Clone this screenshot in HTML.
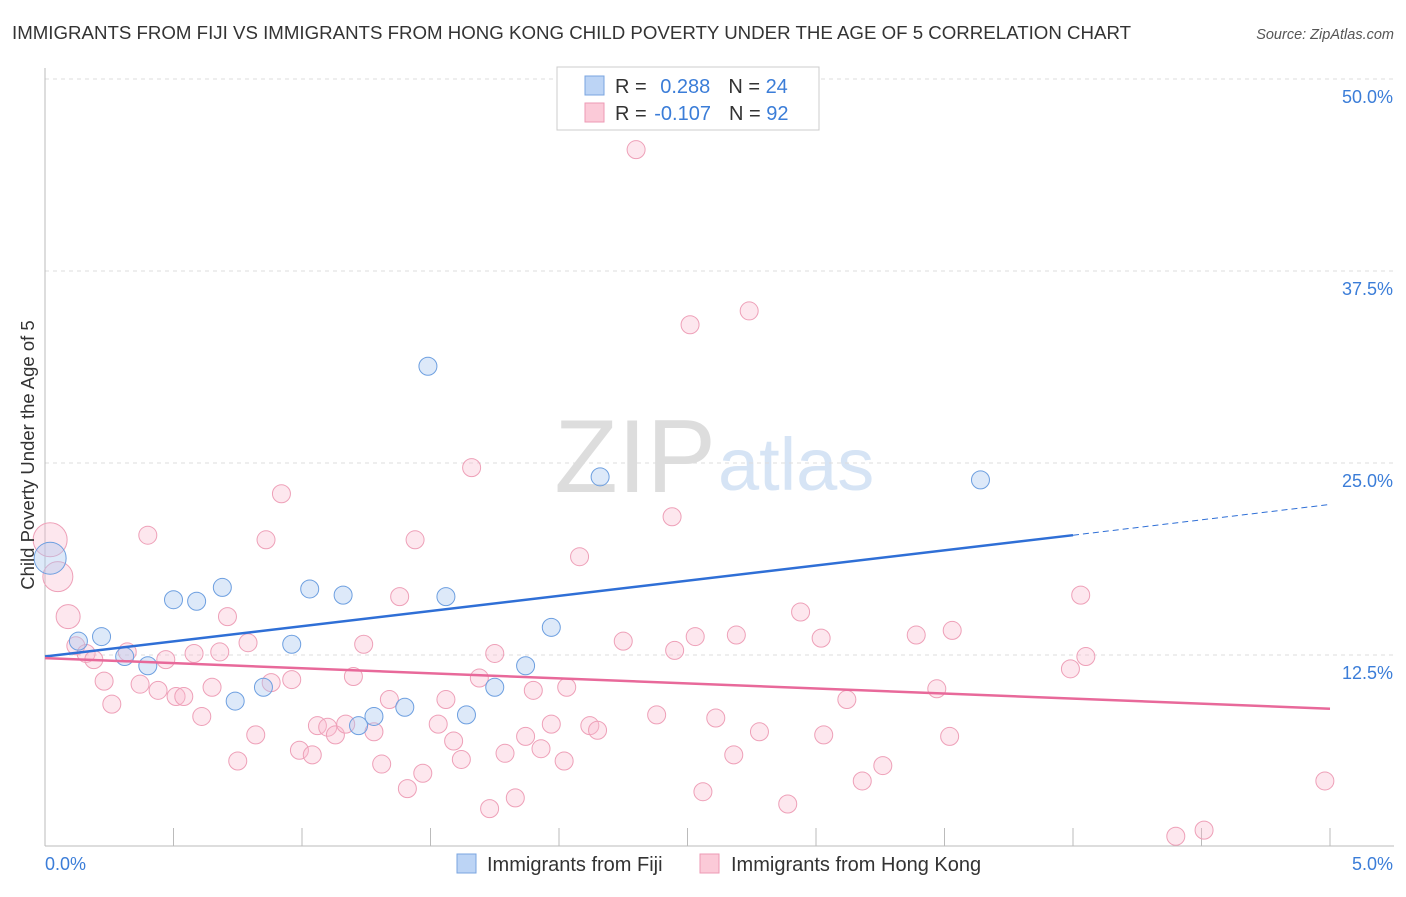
<!DOCTYPE html>
<html><head><meta charset="utf-8">
<style>
body{margin:0;background:#fff;font-family:"Liberation Sans",sans-serif;}
svg text{font-family:"Liberation Sans",sans-serif;}
</style></head>
<body>
<svg id="chart" width="1406" height="892">
<text x="12" y="39" font-size="18" fill="#333" textLength="1119" lengthAdjust="spacingAndGlyphs">IMMIGRANTS FROM FIJI VS IMMIGRANTS FROM HONG KONG CHILD POVERTY UNDER THE AGE OF 5 CORRELATION CHART</text>
<text x="1394" y="39" font-size="14.5" fill="#555" font-style="italic" text-anchor="end">Source: ZipAtlas.com</text>
<text x="716" y="492" font-size="104" fill="#ddd" text-anchor="end" font-family="Liberation Serif">ZIP</text>
<text x="718" y="490" font-size="74" fill="#d6e4f5">atlas</text>
<g id="grid"></g>
<g id="axes"></g>
<g id="marks"></g>
<text transform="translate(34,455) rotate(-90)" font-size="18.5" fill="#333" text-anchor="middle">Child Poverty Under the Age of 5</text>
<g>
<rect x="557" y="67" width="262" height="63" fill="#fff" stroke="#ccc"/>
<rect x="585" y="76" width="19" height="19" fill="#bcd4f5" stroke="#7aa5e0"/>
<rect x="585" y="103" width="19" height="19" fill="#fbcad8" stroke="#ee9ab4"/>
<text x="615" y="93" font-size="20" fill="#333">R = <tspan fill="#3b7dd8" dx="8">0.288</tspan><tspan dx="18">N = </tspan><tspan fill="#3b7dd8">24</tspan></text>
<text x="615" y="120" font-size="20" fill="#333">R = <tspan fill="#3b7dd8" dx="2">-0.107</tspan><tspan dx="18">N = </tspan><tspan fill="#3b7dd8">92</tspan></text>
</g>
<g>
<rect x="457" y="854" width="19" height="19" fill="#bcd4f5" stroke="#7aa5e0"/>
<text x="487" y="871" font-size="20" fill="#333">Immigrants from Fiji</text>
<rect x="700" y="854" width="19" height="19" fill="#fbcad8" stroke="#ee9ab4"/>
<text x="731" y="871" font-size="20" fill="#333">Immigrants from Hong Kong</text>
</g>
</svg>
<script>
const yTicks=[12.5,25,37.5,50];
const yTickLabels=["12.5%","25.0%","37.5%","50.0%"];
const fijiX=[0.02,0.13,0.22,0.31,0.40,0.50,0.59,0.69,0.74,0.85,0.96,1.03,1.16,1.22,1.28,1.40,1.49,1.56,1.64,1.75,1.87,1.97,2.16,3.64];
const fijiY=[18.8,13.4,13.7,12.4,11.8,16.1,16.0,16.9,9.5,10.4,13.2,16.8,16.4,7.9,8.5,9.1,31.3,16.3,8.6,10.4,11.8,14.3,24.1,23.9];
const fijiR=[16,9,9,9,9,9,9,9,9,9,9,9,9,9,9,9,9,9,9,9,9,9,9,9];
const hkX=[0.02,0.05,0.09,0.12,0.16,0.19,0.23,0.26,0.32,0.37,0.40,0.44,0.47,0.51,0.54,0.58,0.61,0.65,0.68,0.71,0.75,0.79,0.82,0.86,0.88,0.92,0.96,0.99,1.04,1.06,1.10,1.13,1.17,1.20,1.24,1.28,1.31,1.34,1.38,1.41,1.44,1.47,1.53,1.56,1.59,1.62,1.66,1.69,1.73,1.75,1.79,1.83,1.87,1.90,1.93,1.97,2.02,2.03,2.08,2.12,2.15,2.25,2.30,2.38,2.44,2.45,2.51,2.53,2.56,2.61,2.68,2.69,2.74,2.78,2.89,2.94,3.02,3.03,3.12,3.18,3.26,3.39,3.47,3.52,3.53,3.99,4.03,4.05,4.40,4.51,4.98];
const hkY=[20.0,17.6,15.0,13.1,12.6,12.2,10.8,9.3,12.7,10.6,20.3,10.2,12.2,9.8,9.8,12.6,8.5,10.4,12.7,15.0,5.6,13.3,7.3,20.0,10.7,23.0,10.9,6.3,6.0,7.9,7.8,7.3,8.0,11.1,13.2,7.5,5.4,9.6,16.3,3.8,20.0,4.8,8.0,9.6,6.9,5.7,24.7,11.0,2.5,12.6,6.1,3.2,7.2,10.2,6.4,8.0,5.6,10.4,18.9,7.9,7.6,13.4,45.4,8.6,21.5,12.8,34.0,13.7,3.6,8.4,6.0,13.8,34.9,7.5,2.8,15.3,13.6,7.3,9.6,4.3,5.3,13.8,10.3,7.2,14.1,11.6,16.4,12.4,0.7,1.1,4.3];
const fijiLine=[[0,12.4],[4,20.3]], fijiDash=[[4,20.3],[5,22.3]];
const hkLine=[[0,12.3],[5,9.0]];
const X=v=>45+v*257, Y=v=>847-v*15.36;
const NS="http://www.w3.org/2000/svg";
function mk(t,a,p){const e=document.createElementNS(NS,t);for(const k in a)e.setAttribute(k,a[k]);p.appendChild(e);return e;}
const grid=document.getElementById('grid'),axes=document.getElementById('axes'),marks=document.getElementById('marks');
yTicks.forEach((t,i)=>{
 const l=mk('line',{x1:45,x2:1394,y1:Y(t),y2:Y(t),stroke:'#ddd','stroke-dasharray':'4,4'},grid);
 
 
 const tx=mk('text',{x:1393,y:Y(t)+24,'font-size':18,fill:'#3b7dd8','text-anchor':'end'},axes);
 tx.textContent=yTickLabels[i];
 
 
});
let ya=mk('line',{x1:45,x2:45,y1:68,y2:846,stroke:'#bbb'},axes);


let xa=mk('line',{x1:45,x2:1394,y1:846,y2:846,stroke:'#bbb'},axes);


for(let i=1;i<=10;i++){const t=mk('line',{x1:X(i*0.5),x2:X(i*0.5),y1:828,y2:846,stroke:'#bbb'},axes);
 
 }
const xl0=mk('text',{x:45,y:870,'font-size':18,fill:'#3b7dd8'},axes);xl0.textContent='0.0%';


const xl1=mk('text',{x:1393,y:870,'font-size':18,fill:'#3b7dd8','text-anchor':'end'},axes);xl1.textContent='5.0%';


hkX.forEach((v,i)=>{const c=mk('circle',{cx:X(v),cy:Y(hkY[i]),r:i==0?17:i==1?15:i==2?12:9,fill:'rgba(248,185,205,0.35)',stroke:'#eea0b8','stroke-width':1},marks);
 
 });
fijiX.forEach((v,i)=>{const c=mk('circle',{cx:X(v),cy:Y(fijiY[i]),r:fijiR[i],fill:'rgba(170,200,240,0.4)',stroke:'#6d9fe0','stroke-width':1},marks);
 
 });
let l1=mk('line',{x1:X(fijiLine[0][0]),y1:Y(fijiLine[0][1]),x2:X(fijiLine[1][0]),y2:Y(fijiLine[1][1]),stroke:'#2f6fd6','stroke-width':2.5},marks);


let l2=mk('line',{x1:X(fijiDash[0][0]),y1:Y(fijiDash[0][1]),x2:X(fijiDash[1][0]),y2:Y(fijiDash[1][1]),stroke:'#2f6fd6','stroke-width':1,'stroke-dasharray':'6,4'},marks);


let l3=mk('line',{x1:X(hkLine[0][0]),y1:Y(hkLine[0][1]),x2:X(hkLine[1][0]),y2:Y(hkLine[1][1]),stroke:'#e8699a','stroke-width':2.5},marks);


</script>
</body></html>
